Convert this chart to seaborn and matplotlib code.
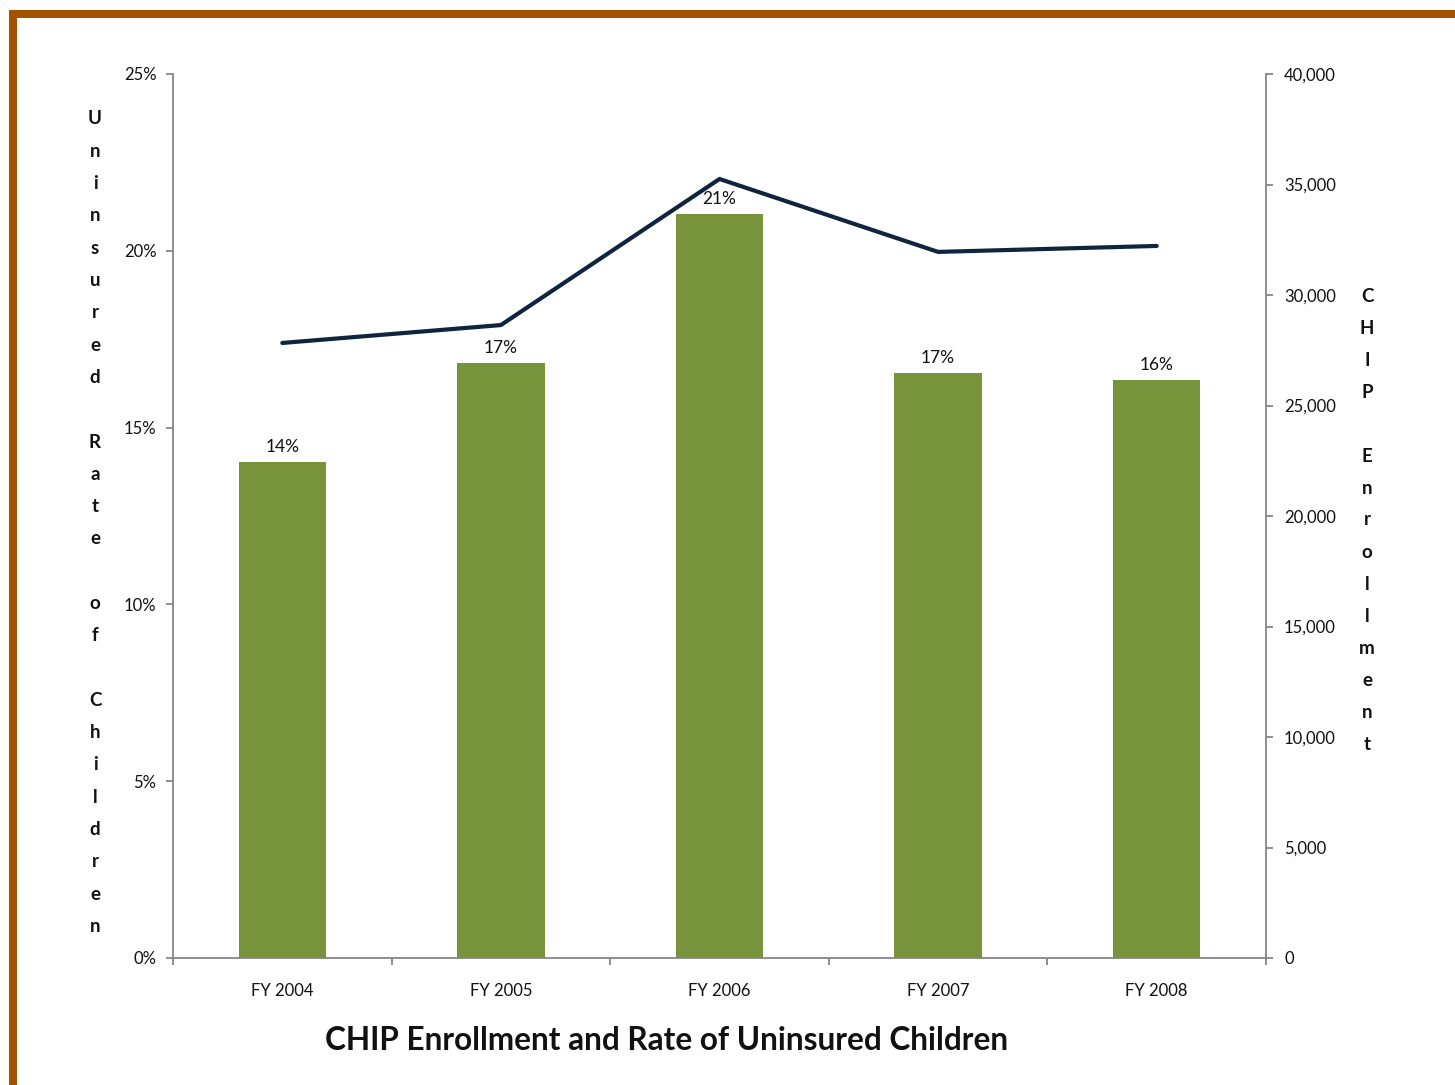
import matplotlib
matplotlib.use("Agg")
import matplotlib.pyplot as plt
import matplotlib.ticker as mticker
from matplotlib.patches import Rectangle
import seaborn as sns
import pandas as pd

# ---- data ----
years = ["FY 2004", "FY 2005", "FY 2006", "FY 2007", "FY 2008"]
uninsured_rate = [0.1403, 0.1683, 0.2104, 0.1654, 0.1635]
enrollment = [27830, 28640, 35250, 31950, 32220]
title = "CHIP Enrollment and Rate of Uninsured Children"
left_label = "Uninsured Rate of Children"
right_label = "CHIP Enrollment"

BAR = "#77933C"
LINE = "#0F243E"
AX = "#868686"
BORDER = "#A35200"

sns.set_theme(style="white")
plt.rcParams["font.family"] = ["Lato", "DejaVu Sans"]

W, H = 1455, 1085
fig = plt.figure(figsize=(W / 100, H / 100), dpi=100)
fig.patch.set_facecolor("white")

def fx(px):
    return px / W

def fy(py):
    return 1 - py / H

ax = fig.add_axes([fx(173), fy(958), fx(1266) - fx(173), fy(74) - fy(958)])
df = pd.DataFrame({"year": years, "rate": uninsured_rate, "enroll": enrollment})

sns.barplot(data=df, x="year", y="rate", color=BAR, width=0.4, saturation=1,
            ax=ax, edgecolor="none")
ax.set_xlim(-0.5, 4.5)
ax.set_ylim(0, 0.25)
ax.set_yticks([0, 0.05, 0.10, 0.15, 0.20, 0.25])
ax.yaxis.set_major_formatter(mticker.FuncFormatter(lambda v, p: f"{v*100:.0f}%"))
ax.set_xlabel("")
ax.set_ylabel("")
for c in ax.containers:
    ax.bar_label(c, labels=[f"{v*100:.0f}%" for v in uninsured_rate],
                 padding=5, fontsize=12.5, color="#111111")

ax2 = ax.twinx()
sns.lineplot(data=df, x="year", y="enroll", color=LINE, linewidth=3,
             sort=False, ax=ax2)
ax2.set_ylim(0, 40000)
ax2.set_yticks(range(0, 40001, 5000))
ax2.yaxis.set_major_formatter(mticker.FuncFormatter(lambda v, p: f"{v:,.0f}"))
ax2.set_xlim(-0.5, 4.5)
ax2.set_xlabel("")
ax2.set_ylabel("")

for a in (ax, ax2):
    a.grid(False)
    a.set_facecolor("none")
    for s in a.spines.values():
        s.set_visible(False)

ax.spines["left"].set_visible(True)
ax.spines["bottom"].set_visible(True)
ax2.spines["right"].set_visible(True)
for s in (ax.spines["left"], ax.spines["bottom"], ax2.spines["right"]):
    s.set_color(AX)
    s.set_linewidth(1.3)

ax.set_xticks(range(len(years)))
ax.set_xticklabels(years)
ax.set_xticks([i - 0.5 for i in range(len(years) + 1)], minor=True)
ax.tick_params(axis="x", which="major", length=0, pad=18, labelsize=12, labelcolor="#111111")
ax.tick_params(axis="x", which="minor", length=5, width=1.3, color=AX, direction="out", bottom=True)
ax.tick_params(axis="y", which="major", length=5, width=1.3, color=AX, direction="out",
               left=True, pad=7, labelsize=12, labelcolor="#111111")
ax2.tick_params(axis="y", which="major", length=5, width=1.3, color=AX, direction="out",
                right=True, pad=8, labelsize=12, labelcolor="#111111")

# vertical stacked axis labels
def stacked(text, x, y0, step):
    for i, ch in enumerate(text):
        if ch != " ":
            fig.text(fx(x), fy(y0 + i * step), ch, ha="center", va="center",
                     fontsize=13.5, fontweight="bold", color="#111111")

stacked(left_label, 95, 119, 32.3)
stacked(right_label, 1367, 296, 32.0)

fig.text(fx(667), fy(1040), title, ha="center", va="center",
         fontsize=22.7, fontweight="bold", color="#111111")

# border
fig.patches.append(Rectangle((fx(9), fy(18)), 1, fy(10) - fy(18), transform=fig.transFigure,
                             facecolor=BORDER, edgecolor="none", zorder=10))
fig.patches.append(Rectangle((fx(9), 0), fx(17) - fx(9), fy(10), transform=fig.transFigure,
                             facecolor=BORDER, edgecolor="none", zorder=10))

fig.savefig("out.png", dpi=100)
